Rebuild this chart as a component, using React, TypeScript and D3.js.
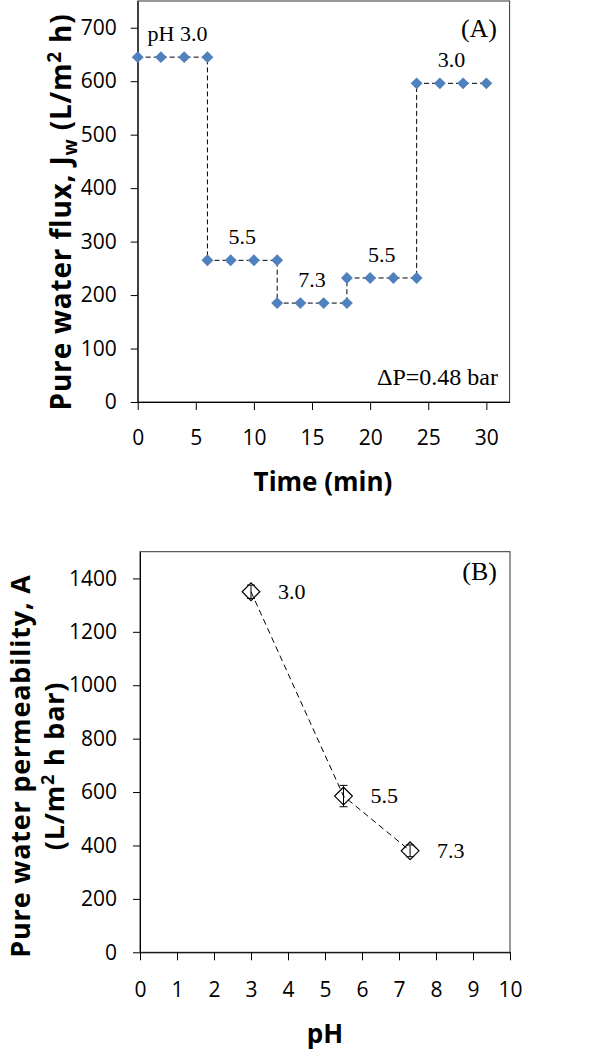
import React, { useEffect, useRef } from 'react';
import * as d3 from 'd3';

// Panel A: flux vs time, pH stepped
const timeA = [0, 2, 4, 6, 6, 8, 10, 12, 12, 14, 16, 18, 18, 20, 22, 24, 24, 26, 28, 30];
const fluxA = [645, 645, 645, 645, 265, 265, 265, 265, 185, 185, 185, 185, 232, 232, 232, 232, 596, 596, 596, 596];
const stepLabelsA = ['pH 3.0', '5.5', '7.3', '5.5', '3.0'];
const xTicksA = [0, 5, 10, 15, 20, 25, 30];
const yTicksA = [0, 100, 200, 300, 400, 500, 600, 700];

// Panel B: permeability vs pH
const phB = [3.0, 5.5, 7.3];
const permB = [1350, 585, 380];
const errB = [25, 40, 22];
const labelsB = ['3.0', '5.5', '7.3'];
const xTicksB = [0, 1, 2, 3, 4, 5, 6, 7, 8, 9, 10];
const yTicksB = [0, 200, 400, 600, 800, 1000, 1200, 1400];

const SANS = '"Open Sans", Lato, sans-serif';
const SERIF = '"Liberation Serif", "Times New Roman", serif';

const App: React.FC = () => {
  const svgRef = useRef<SVGSVGElement>(null);

  useEffect(() => {
    if (!svgRef.current) return;
    const svg = d3.select(svgRef.current);
    svg.selectAll('*').remove();

    const styleAxis = (g: d3.Selection<SVGGElement, unknown, null, undefined>) => {
      g.selectAll('text').style('font-family', SANS).style('font-size', '21px').attr('fill', '#000');
      g.selectAll('line').attr('stroke', '#000');
      g.select('.domain').attr('stroke', '#000');
    };

    const serifText = (x: number, y: number, size: number, txt: string, anchor = 'start') =>
      svg.append('text')
        .attr('x', x).attr('y', y)
        .attr('text-anchor', anchor)
        .style('font-family', SERIF)
        .style('font-size', `${size}px`)
        .text(txt);

    // ---------- Panel A ----------
    const xA = d3.scaleLinear().domain([0, 32]).range([137.7, 509.6]);
    const yA = d3.scaleLinear().domain([0, 750]).range([402, 1]);

    svg.append('rect')
      .attr('x', xA(0)).attr('y', yA(750))
      .attr('width', xA(32) - xA(0)).attr('height', yA(0) - yA(750))
      .attr('fill', 'none').attr('stroke', '#333').attr('stroke-width', 1);

    svg.append('g')
      .attr('transform', `translate(0,${yA(0)})`)
      .call(d3.axisBottom(xA).tickValues(xTicksA).tickSizeInner(8).tickSizeOuter(0).tickPadding(20))
      .call(styleAxis);
    svg.append('g')
      .attr('transform', `translate(${xA(0)},0)`)
      .call(d3.axisLeft(yA).tickValues(yTicksA).tickSizeInner(7).tickSizeOuter(0).tickPadding(14))
      .call(styleAxis);

    const ptsA = timeA.map((t, i) => [t, fluxA[i]] as [number, number]);
    svg.append('path')
      .datum(ptsA)
      .attr('fill', 'none')
      .attr('stroke', '#000')
      .attr('stroke-width', 1)
      .attr('stroke-dasharray', '5,3')
      .attr('d', d3.line<[number, number]>().x((d) => xA(d[0])).y((d) => yA(d[1])));

    const diamond = d3.symbol().type(d3.symbolDiamond2).size(90);
    svg.append('g')
      .selectAll('path')
      .data(ptsA)
      .enter()
      .append('path')
      .attr('transform', (d) => `translate(${xA(d[0])},${yA(d[1])})`)
      .attr('d', diamond)
      .attr('fill', '#4F81BD');

    // step labels, centred over each 4-point segment
    stepLabelsA.forEach((lab, k) => {
      const seg = timeA.slice(k * 4, k * 4 + 4);
      const cx = d3.mean(seg) as number;
      serifText(xA(cx) + (k === 0 ? 5 : 0), yA(fluxA[k * 4]) - 16, 22, lab, 'middle');
    });

    serifText(497, 37, 26, '(A)', 'end');
    serifText(498, 385, 24, 'ΔP=0.48 bar', 'end');

    svg.append('text')
      .attr('x', 323).attr('y', 491)
      .attr('text-anchor', 'middle')
      .style('font-family', SANS).style('font-size', '26px').style('font-weight', 'bold')
      .text('Time (min)');

    const tA = svg.append('text')
      .attr('transform', 'translate(71,212) rotate(-90)')
      .attr('text-anchor', 'middle')
      .style('font-family', SANS).style('font-size', '28px').style('font-weight', 'bold')
      .style('letter-spacing', '0.8px');
    tA.append('tspan').text('Pure water flux, J');
    tA.append('tspan').attr('dy', 6).style('font-size', '19px').text('w');
    tA.append('tspan').attr('dy', -6).text(' (L/m');
    tA.append('tspan').attr('dy', -10).style('font-size', '19px').text('2');
    tA.append('tspan').attr('dy', 10).text(' h)');

    // ---------- Panel B ----------
    const xB = d3.scaleLinear().domain([0, 10]).range([140, 510]);
    const yB = d3.scaleLinear().domain([0, 1500]).range([952.3, 551.7]);

    svg.append('rect')
      .attr('x', xB(0)).attr('y', yB(1500))
      .attr('width', xB(10) - xB(0)).attr('height', yB(0) - yB(1500))
      .attr('fill', 'none').attr('stroke', '#333').attr('stroke-width', 1);

    svg.append('g')
      .attr('transform', `translate(0,${yB(0)})`)
      .call(d3.axisBottom(xB).tickValues(xTicksB).tickSizeInner(8).tickSizeOuter(0).tickPadding(22))
      .call(styleAxis);
    svg.append('g')
      .attr('transform', `translate(${xB(0)},0)`)
      .call(d3.axisLeft(yB).tickValues(yTicksB).tickFormat(d3.format('d')).tickSizeInner(7).tickSizeOuter(0).tickPadding(16))
      .call(styleAxis);

    const ptsB = phB.map((p, i) => [p, permB[i]] as [number, number]);
    svg.append('path')
      .datum(ptsB)
      .attr('fill', 'none')
      .attr('stroke', '#000')
      .attr('stroke-width', 1)
      .attr('stroke-dasharray', '6,4')
      .attr('d', d3.line<[number, number]>().x((d) => xB(d[0])).y((d) => yB(d[1])));

    // error bars
    const eb = svg.append('g').attr('stroke', '#000').attr('stroke-width', 1);
    phB.forEach((p, i) => {
      const x = xB(p);
      const y1 = yB(permB[i] - errB[i]);
      const y2 = yB(permB[i] + errB[i]);
      eb.append('line').attr('x1', x).attr('x2', x).attr('y1', y1).attr('y2', y2);
      eb.append('line').attr('x1', x - 4).attr('x2', x + 4).attr('y1', y1).attr('y2', y1);
      eb.append('line').attr('x1', x - 4).attr('x2', x + 4).attr('y1', y2).attr('y2', y2);
    });

    const diamondB = d3.symbol().type(d3.symbolDiamond2).size(200);
    svg.append('g')
      .selectAll('path')
      .data(ptsB)
      .enter()
      .append('path')
      .attr('transform', (d) => `translate(${xB(d[0])},${yB(d[1])})`)
      .attr('d', diamondB)
      .attr('fill', 'none')
      .attr('stroke', '#000')
      .attr('stroke-width', 1.2);

    labelsB.forEach((lab, i) => {
      serifText(xB(phB[i]) + 27, yB(permB[i]) + 7, 22, lab);
    });

    serifText(497, 580, 26, '(B)', 'end');

    svg.append('text')
      .attr('x', 325).attr('y', 1043)
      .attr('text-anchor', 'middle')
      .style('font-family', SANS).style('font-size', '26px').style('font-weight', 'bold')
      .text('pH');

    const tB = svg.append('text')
      .attr('transform', 'translate(0,766) rotate(-90)')
      .attr('text-anchor', 'middle')
      .style('font-family', SANS).style('font-size', '27px').style('font-weight', 'bold')
      .style('letter-spacing', '0.8px');
    tB.append('tspan').attr('x', 0).attr('y', 30).text('Pure water permeability, A');
    tB.append('tspan').attr('x', 0).attr('y', 64).text('(L/m');
    tB.append('tspan').attr('dy', -10).style('font-size', '18px').text('2');
    tB.append('tspan').attr('dy', 10).text(' h bar)');
  }, []);

  return (
    <svg
      ref={svgRef}
      width={614}
      height={1050}
      style={{ position: 'absolute', left: 0, top: 0, background: '#fff' }}
    />
  );
};

export default App;
